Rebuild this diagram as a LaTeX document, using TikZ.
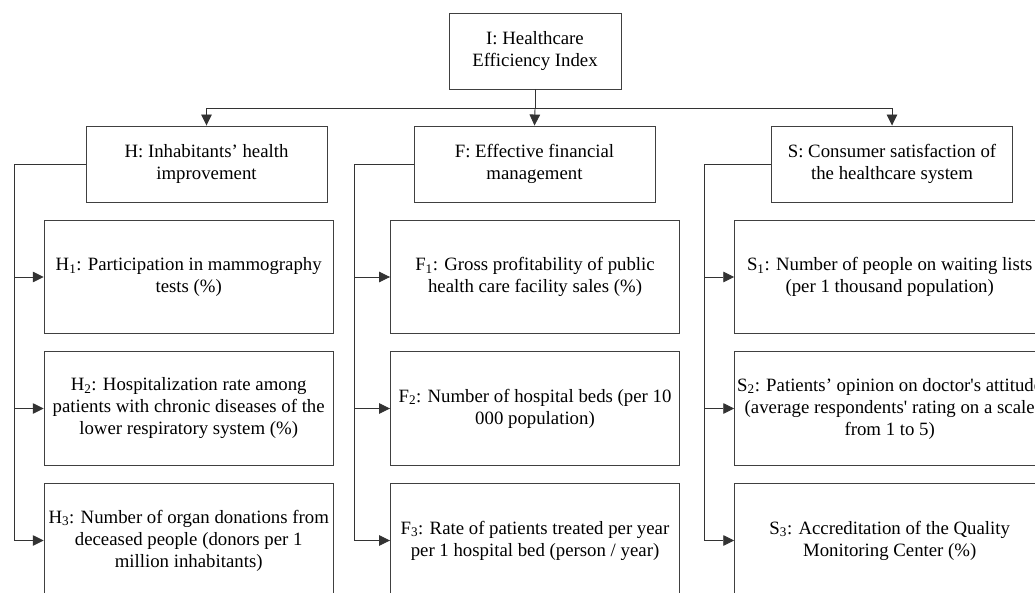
\documentclass[tikz,border=0pt]{standalone}
\usepackage{fontspec}
\setmainfont{Liberation Serif}
\usetikzlibrary{arrows.meta}
\begin{document}
\begin{tikzpicture}[x=1pt,y=-1pt,
  box/.style={draw=black!75, line width=0.9pt, align=center, inner sep=0pt,
    font=\fontsize{18.8}{22}\selectfont, text=black},
  head/.style={box, minimum width=241pt, minimum height=76pt},
  leaf/.style={box, minimum width=289pt, minimum height=113.5pt},
  wide/.style={box, minimum width=310pt, minimum height=113.5pt},
  wire/.style={draw=black!80, line width=0.9pt},
  arr/.style={wire, -{Triangle[length=11pt,width=10.5pt]}}]
\useasboundingbox (0,0) rectangle (1035,593);
\clip (0,0) rectangle (1035,593);

% root
\node[box, minimum width=172pt, minimum height=76pt] (I) at (535,51)
  {I: Healthcare\\Efficiency Index};

% the three components
\node[head] (H) at (206.5,164) {H: Inhabitants’ health\\improvement};
\node[head] (F) at (534.5,164) {F: Effective financial\\management};
\node[head] (S) at (892,164) {S: Consumer satisfaction of\\the healthcare system};

% indicators
\node[leaf] (H1) at (188.7,277)   {H\textsubscript{1}: Participation in mammography\\tests (\%)};
\node[leaf] (H2) at (188.7,408.5) {H\textsubscript{2}: Hospitalization rate among\\patients with chronic diseases of the\\lower respiratory system (\%)};
\node[leaf] (H3) at (188.7,540.5) {H\textsubscript{3}: Number of organ donations from\\deceased people (donors per 1\\million inhabitants)};

\node[leaf] (F1) at (535,277)   {F\textsubscript{1}: Gross profitability of public\\health care facility sales (\%)};
\node[leaf] (F2) at (535,408.5) {F\textsubscript{2}: Number of hospital beds (per 10\\000 population)};
\node[leaf] (F3) at (535,540.5) {F\textsubscript{3}: Rate of patients treated per year\\per 1 hospital bed (person / year)};

\node[wide] (S1) at (889.7,277)   {S\textsubscript{1}: Number of people on waiting lists\\(per 1 thousand population)};
\node[wide] (S2) at (889.7,408.5) {S\textsubscript{2}: Patients’ opinion on doctor\textquotesingle s attitude\\(average respondents\textquotesingle{} rating on a scale\\from 1 to 5)};
\node[wide] (S3) at (889.7,540.5) {S\textsubscript{3}: Accreditation of the Quality\\Monitoring Center (\%)};

% root to components
\coordinate (bus) at (535,108.5);
\draw[wire] (I.south) -- (bus);
\draw[arr] (bus) -| (H.north);
\draw[arr] (bus) -- (F.north);
\draw[arr] (bus) -| (S.north);

% component to indicators
\coordinate (hx) at (14.7,164);
\coordinate (fx) at (354.3,164);
\coordinate (sx) at (704.7,164);

\draw[arr] (H.west) -- (hx) |- (H3.west);
\draw[arr] (hx |- H1.west) -- (H1.west);
\draw[arr] (hx |- H2.west) -- (H2.west);

\draw[arr] (F.west) -- (fx) |- (F3.west);
\draw[arr] (fx |- F1.west) -- (F1.west);
\draw[arr] (fx |- F2.west) -- (F2.west);

\draw[arr] (S.west) -- (sx) |- (S3.west);
\draw[arr] (sx |- S1.west) -- (S1.west);
\draw[arr] (sx |- S2.west) -- (S2.west);
\end{tikzpicture}
\end{document}
